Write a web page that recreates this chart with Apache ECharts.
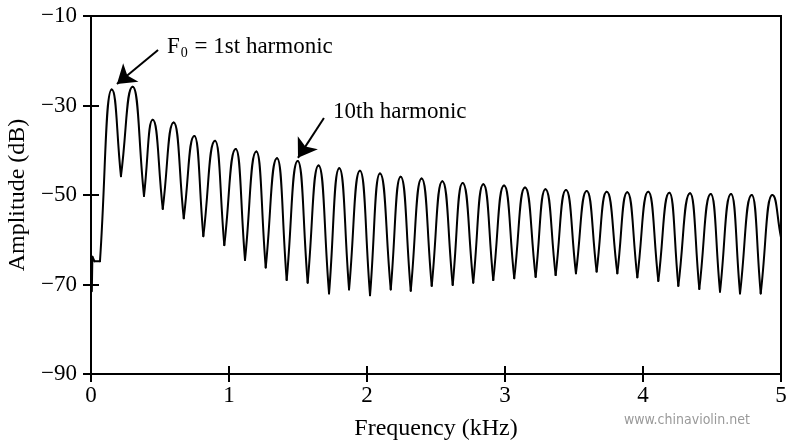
<!DOCTYPE HTML>
<html>
<head>
    <meta charset="utf-8">
    <title>Violin spectrum</title>
    <script type="text/javascript" src="https://cdn.jsdelivr.net/npm/echarts@6.0.0/dist/echarts.min.js"></script>
    <style>
        html, body { margin: 0; padding: 0; background: #fff; }
        #container { width: 800px; height: 447px; }
    </style>
</head>
<body>

<div id="container"></div>

<script type="text/javascript">
    // low end before the first harmonic (kHz, dB)
    var onsetFreq = [0.006, 0.010, 0.025, 0.065];
    var onsetDb = [-71.5, -63.8, -64.8, -64.8];

    // harmonic peaks
    var harmonicFreq = [0.150, 0.302, 0.447, 0.599, 0.749, 0.899, 1.049, 1.198, 1.348, 1.498,
        1.649, 1.799, 1.949, 2.094, 2.244, 2.396, 2.546, 2.693, 2.843, 2.993,
        3.145, 3.293, 3.442, 3.592, 3.737, 3.886, 4.038, 4.191, 4.341, 4.491,
        4.638, 4.788, 4.937];
    var harmonicDb = [-26.4, -25.8, -33.2, -33.8, -36.8, -37.9, -39.7, -40.3, -41.8, -42.4,
        -43.4, -44.0, -44.6, -45.2, -45.9, -46.3, -46.9, -47.3, -47.6, -47.9,
        -48.3, -48.7, -48.9, -49.1, -49.3, -49.4, -49.3, -49.5, -49.6, -49.8,
        -49.8, -50.0, -50.0];

    // dips between harmonics
    var troughFreq = [0.217, 0.384, 0.520, 0.672, 0.814, 0.966, 1.116, 1.266, 1.418, 1.570,
        1.725, 1.870, 2.022, 2.172, 2.317, 2.469, 2.621, 2.770, 2.915, 3.067,
        3.222, 3.367, 3.514, 3.664, 3.814, 3.959, 4.111, 4.256, 4.408, 4.558,
        4.703, 4.853];
    var troughDb = [-45.8, -50.2, -53.1, -55.2, -59.2, -61.2, -64.5, -66.2, -69.0, -69.6,
        -72.0, -71.1, -72.4, -71.1, -71.4, -70.3, -70.1, -69.6, -69.0, -68.6,
        -68.3, -67.9, -67.5, -67.1, -67.5, -68.4, -69.2, -70.3, -71.0, -71.6,
        -72.0, -72.0];

    var endFreq = 5.0;
    var endDb = -59.5;

    var xTicks = [0, 1, 2, 3, 4, 5];
    var yTicks = [-90, -70, -50, -30, -10];

    // one list of points, and whether each one is a peak (drawn rounded) or not (drawn sharp)
    var points = [];
    var isPeak = [];
    for (var i = 0; i < onsetFreq.length; i++) {
        points.push([onsetFreq[i], onsetDb[i]]);
        isPeak.push(false);
    }
    for (var j = 0; j < harmonicFreq.length; j++) {
        points.push([harmonicFreq[j], harmonicDb[j]]);
        isPeak.push(true);
        if (j < troughFreq.length) {
            points.push([troughFreq[j], troughDb[j]]);
            isPeak.push(false);
        }
    }
    points.push([endFreq, endDb]);
    isPeak.push(false);

    var serif = '"Liberation Serif", "DejaVu Serif", serif';
    var minus = function (v) {
        return v < 0 ? '\u2212' + Math.abs(v) : String(v);
    };

    // each item draws the piece of curve coming into it from the previous point
    function renderSpectrum(params, api) {
        var i = params.dataIndex;
        if (i === 0) {
            return null;
        }
        var pa = api.coord(points[i - 1]);
        var pb = api.coord(points[i]);
        var dx = pb[0] - pa[0];
        var dy = pb[1] - pa[1];
        var c1 = isPeak[i - 1] ? [pa[0] + dx * 0.55, pa[1]] : [pa[0] + dx * 0.5, pa[1] + dy * 0.5];
        var c2 = isPeak[i] ? [pb[0] - dx * 0.55, pb[1]] : [pb[0] - dx * 0.5, pb[1] - dy * 0.5];
        return {
            type: 'bezierCurve',
            shape: {
                x1: pa[0], y1: pa[1],
                x2: pb[0], y2: pb[1],
                cpx1: c1[0], cpy1: c1[1],
                cpx2: c2[0], cpy2: c2[1]
            },
            style: {stroke: '#000', lineWidth: 2, fill: null, lineCap: 'round', lineJoin: 'round'}
        };
    }

    var dom = document.getElementById("container");
    var myChart = echarts.init(dom, null, {renderer: 'canvas'});

    var option = {
        animation: false,
        backgroundColor: '#fff',
        textStyle: {fontFamily: serif, color: '#000'},
        grid: {
            left: 91,
            right: 19,
            top: 16,
            bottom: 73,
            show: true,
            borderColor: '#000',
            borderWidth: 2,
            backgroundColor: 'transparent',
            containLabel: false,
            outerBoundsMode: 'none'
        },
        xAxis: [
            {
                type: 'value',
                min: xTicks[0],
                max: xTicks[xTicks.length - 1],
                interval: 1,
                position: 'bottom',
                name: 'Frequency (kHz)',
                nameLocation: 'middle',
                nameGap: 43,
                nameTextStyle: {fontFamily: serif, fontSize: 24, color: '#000'},
                axisLine: {show: true, lineStyle: {color: '#000', width: 2}},
                axisTick: {show: true, inside: false, length: 8, lineStyle: {color: '#000', width: 2}},
                axisLabel: {fontFamily: serif, fontSize: 23, color: '#000', margin: 10},
                splitLine: {show: false}
            },
            {
                type: 'value',
                min: xTicks[0],
                max: xTicks[xTicks.length - 1],
                interval: 1,
                position: 'bottom',
                axisLine: {show: false},
                axisTick: {show: true, inside: true, length: 8, lineStyle: {color: '#000', width: 2}},
                axisLabel: {show: false},
                splitLine: {show: false}
            }
        ],
        yAxis: [
            {
                type: 'value',
                min: yTicks[0],
                max: yTicks[yTicks.length - 1],
                interval: 20,
                position: 'left',
                name: 'Amplitude (dB)',
                nameLocation: 'middle',
                nameGap: 55,
                nameTextStyle: {fontFamily: serif, fontSize: 24, color: '#000'},
                axisLine: {show: true, lineStyle: {color: '#000', width: 2}},
                axisTick: {show: true, inside: false, length: 8, lineStyle: {color: '#000', width: 2}},
                axisLabel: {fontFamily: serif, fontSize: 23, color: '#000', margin: 14, formatter: minus},
                splitLine: {show: false}
            },
            {
                type: 'value',
                min: yTicks[0],
                max: yTicks[yTicks.length - 1],
                interval: 20,
                position: 'left',
                axisLine: {show: false},
                axisTick: {show: true, inside: true, length: 8, lineStyle: {color: '#000', width: 2}},
                axisLabel: {show: false},
                splitLine: {show: false}
            }
        ],
        graphic: [
            {
                type: 'text',
                right: 50,
                bottom: 20,
                style: {
                    text: 'www.chinaviolin.net',
                    fill: '#9a9a9a',
                    font: '14px "DejaVu Sans Condensed", "DejaVu Sans", sans-serif'
                }
            }
        ],
        series: [
            {
                name: 'Amplitude',
                type: 'custom',
                xAxisIndex: 0,
                yAxisIndex: 0,
                data: points,
                encode: {x: 0, y: 1},
                renderItem: renderSpectrum,
                silent: true
            },
            {
                name: 'notes',
                type: 'line',
                xAxisIndex: 0,
                yAxisIndex: 0,
                data: [],
                symbol: 'none',
                markLine: {
                    silent: true,
                    symbol: ['none', 'arrow'],
                    symbolSize: 18,
                    label: {show: false},
                    lineStyle: {color: '#000', width: 2, type: 'solid'},
                    data: [
                        [{coord: [0.486, -17.6]}, {coord: [0.188, -25.2]}],
                        [{coord: [1.688, -32.8]}, {coord: [1.500, -41.7]}]
                    ]
                },
                markPoint: {
                    silent: true,
                    symbol: 'circle',
                    symbolSize: 0,
                    data: [
                        {
                            coord: [0.551, -16.9],
                            label: {
                                show: true,
                                position: 'right',
                                distance: 0,
                                formatter: '{a|F}{s|0}{a| = 1st harmonic}',
                                rich: {
                                    a: {fontFamily: serif, fontSize: 23, color: '#000', lineHeight: 26},
                                    s: {fontFamily: serif, fontSize: 14, color: '#000', lineHeight: 14,
                                        verticalAlign: 'bottom', padding: [0, 1, 0, 1]}
                                }
                            }
                        },
                        {
                            coord: [1.754, -31.5],
                            label: {
                                show: true,
                                position: 'right',
                                distance: 0,
                                formatter: '10th harmonic',
                                fontFamily: serif,
                                fontSize: 23,
                                color: '#000'
                            }
                        }
                    ]
                }
            }
        ]
    };

    myChart.setOption(option, true);
</script>

</body>
</html>
